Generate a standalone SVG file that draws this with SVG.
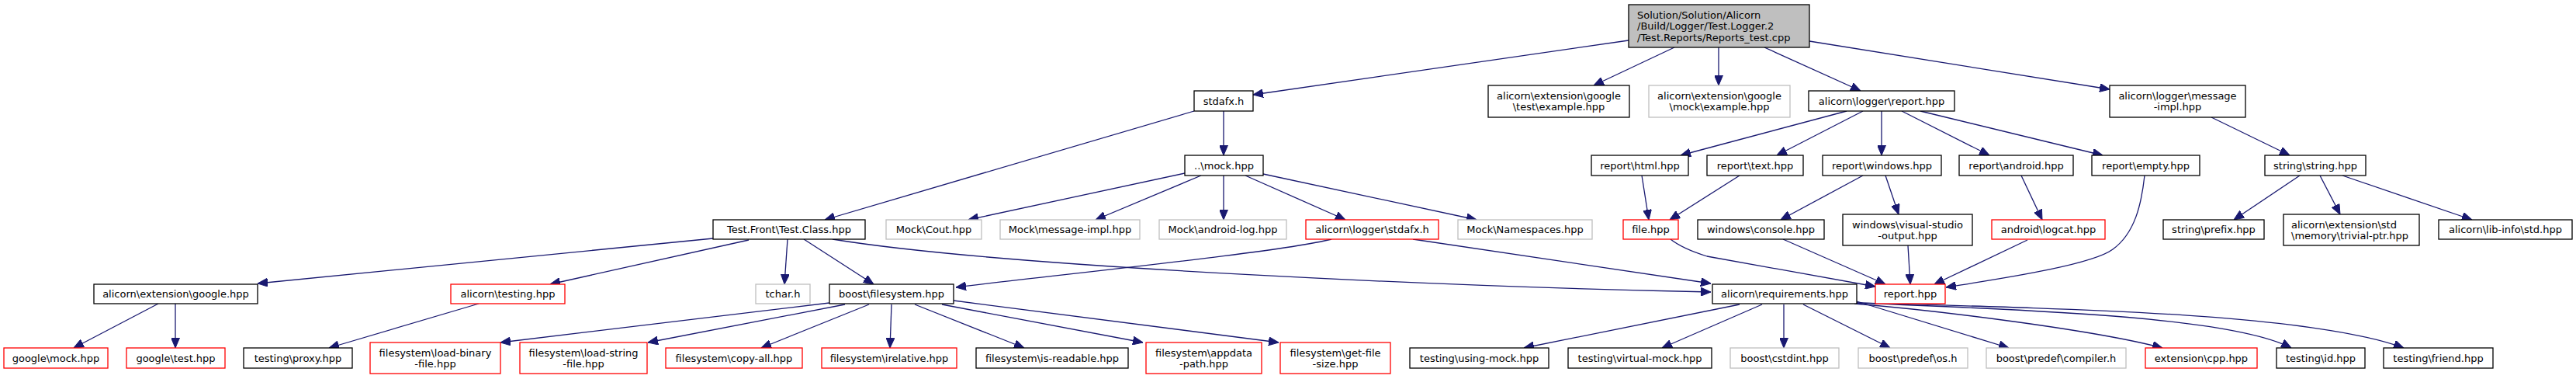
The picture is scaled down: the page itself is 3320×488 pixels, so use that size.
<svg xmlns="http://www.w3.org/2000/svg" width="3320" height="488" viewBox="0 0 3320 488">
<defs>
<style>
rect{fill:#fff;stroke-width:1.3}
.k rect{stroke:#000}
.g rect{stroke:#bfbfbf}
.r rect{stroke:#ff0000}
.root rect{fill:#bfbfbf;stroke:#000}
text{font-family:"DejaVu Sans","Liberation Sans",sans-serif;font-size:13px;fill:#000;text-anchor:middle}
.l text{text-anchor:start}
#edges path{fill:none;stroke:#191970;stroke-width:1.3;marker-end:url(#ah)}
</style>
<marker id="ah" markerUnits="userSpaceOnUse" markerWidth="13" markerHeight="11" refX="13" refY="5.5" orient="auto">
<path d="M0,0 L13,5.5 L0,11 z" fill="#191970" stroke="#191970" stroke-width="1"/>
</marker>
</defs>
<rect x="0" y="0" width="3320" height="488" fill="#fff" stroke="none"/>
<g id="edges">
<path d="M2099,52 L1615,122"/>
<path d="M2158,61 L2054,110"/>
<path d="M2215,61 L2215,110"/>
<path d="M2274,61 L2398,117"/>
<path d="M2332,53 L2719,115"/>
<path d="M1577,143 L1577,200"/>
<path d="M1539,143 L1063,283"/>
<path d="M1527,223 L1248,283"/>
<path d="M1548,226 L1412,283"/>
<path d="M1577,226 L1577,283"/>
<path d="M1605,226 L1734,283"/>
<path d="M1628,224 L1903,283"/>
<path d="M2380,143 L2166,200"/>
<path d="M2401,143 L2290,200"/>
<path d="M2425,143 L2425,200"/>
<path d="M2451,143 L2564,200"/>
<path d="M2475,143 L2710,200"/>
<path d="M2850,151 L2951,200"/>
<path d="M2116,226 L2125,283"/>
<path d="M2242,226 L2152,283"/>
<path d="M2401,226 L2295,283"/>
<path d="M2430,226 L2447,276"/>
<path d="M2605,226 L2632,283"/>
<path d="M2764,226 C2760,262 2752,300 2723,321 C2695,342 2570,360 2508,370"/>
<path d="M2964,226 L2879,283"/>
<path d="M2990,226 L3016,276"/>
<path d="M3019,226 L3186,283"/>
<path d="M919,307 L332,365"/>
<path d="M965,309 L709,366"/>
<path d="M1015,308 L1011,366"/>
<path d="M1036,308 L1126,366"/>
<path d="M1073,308 C1300,345 1900,370 2205,376"/>
<path d="M1716,308 C1650,325 1350,355 1232,370"/>
<path d="M1821,308 L2205,365"/>
<path d="M2153,308 Q2168,320 2200,330 L2417,369"/>
<path d="M2298,308 L2430,366"/>
<path d="M2459,316 L2462,366"/>
<path d="M2613,309 L2493,366"/>
<path d="M204,391 L95,448"/>
<path d="M226,391 L226,448"/>
<path d="M617,391 L424,448"/>
<path d="M1069,390 L645,441"/>
<path d="M1089,392 L835,441"/>
<path d="M1120,392 L981,448"/>
<path d="M1149,392 L1147,448"/>
<path d="M1179,392 L1320,448"/>
<path d="M1214,392 L1473,441"/>
<path d="M1229,387 L1648,441"/>
<path d="M2242,392 L1964,448"/>
<path d="M2271,392 L2142,448"/>
<path d="M2299,392 L2299,448"/>
<path d="M2324,392 L2436,448"/>
<path d="M2393,388 L2589,448"/>
<path d="M2390,391 C2500,400 2700,425 2787,448"/>
<path d="M2393,390 C2650,400 2880,410 2953,448"/>
<path d="M2393,390 C2700,398 2980,405 3098,448"/>
</g>
<g id="n_root" class="root l"><rect x="2099" y="6" width="233" height="55"/><text x="2110" y="23.5">Solution/Solution/Alicorn</text><text x="2110" y="38">/Build/Logger/Test.Logger.2</text><text x="2110" y="52.5">/Test.Reports/Reports_test.cpp</text></g>
<g id="n_stdafx" class="k"><rect x="1539" y="117" width="76" height="26"/><text x="1577" y="134.5">stdafx.h</text></g>
<g id="n_gtest_example" class="k"><rect x="1918" y="110" width="182" height="41"/><text x="2009" y="128">alicorn\extension\google</text><text x="2009" y="142">\test\example.hpp</text></g>
<g id="n_gmock_example" class="g"><rect x="2125" y="110" width="182" height="41"/><text x="2216" y="128">alicorn\extension\google</text><text x="2216" y="142">\mock\example.hpp</text></g>
<g id="n_logger_report" class="k"><rect x="2331" y="117" width="188" height="26"/><text x="2425" y="134.5">alicorn\logger\report.hpp</text></g>
<g id="n_message_impl" class="k"><rect x="2719" y="110" width="175" height="41"/><text x="2806.5" y="128">alicorn\logger\message</text><text x="2806.5" y="142">-impl.hpp</text></g>
<g id="n_mock" class="k"><rect x="1527" y="200" width="101" height="26"/><text x="1577.5" y="217.5">..\mock.hpp</text></g>
<g id="n_report_html" class="k"><rect x="2051" y="200" width="125" height="26"/><text x="2113.5" y="217.5">report\html.hpp</text></g>
<g id="n_report_text" class="k"><rect x="2200" y="200" width="124" height="26"/><text x="2262" y="217.5">report\text.hpp</text></g>
<g id="n_report_windows" class="k"><rect x="2349" y="200" width="153" height="26"/><text x="2425.5" y="217.5">report\windows.hpp</text></g>
<g id="n_report_android" class="k"><rect x="2525" y="200" width="147" height="26"/><text x="2598.5" y="217.5">report\android.hpp</text></g>
<g id="n_report_empty" class="k"><rect x="2696" y="200" width="139" height="26"/><text x="2765.5" y="217.5">report\empty.hpp</text></g>
<g id="n_string_string" class="k"><rect x="2919" y="200" width="130" height="26"/><text x="2984" y="217.5">string\string.hpp</text></g>
<g id="n_test_class" class="k"><rect x="919" y="283" width="196" height="25"/><text x="1017" y="300">Test.Front\Test.Class.hpp</text></g>
<g id="n_mock_cout" class="g"><rect x="1142" y="283" width="123" height="25"/><text x="1203.5" y="300">Mock\Cout.hpp</text></g>
<g id="n_mock_message_impl" class="g"><rect x="1289" y="283" width="180" height="25"/><text x="1379" y="300">Mock\message-impl.hpp</text></g>
<g id="n_mock_android_log" class="g"><rect x="1494" y="283" width="164" height="25"/><text x="1576" y="300">Mock\android-log.hpp</text></g>
<g id="n_logger_stdafx" class="r"><rect x="1683" y="283" width="171" height="25"/><text x="1768.5" y="300">alicorn\logger\stdafx.h</text></g>
<g id="n_mock_namespaces" class="g"><rect x="1879" y="283" width="173" height="25"/><text x="1965.5" y="300">Mock\Namespaces.hpp</text></g>
<g id="n_file" class="r"><rect x="2092" y="283" width="71" height="25"/><text x="2127.5" y="300">file.hpp</text></g>
<g id="n_windows_console" class="k"><rect x="2188" y="283" width="163" height="25"/><text x="2269.5" y="300">windows\console.hpp</text></g>
<g id="n_windows_vs_output" class="k"><rect x="2375" y="276" width="167" height="40"/><text x="2458.5" y="293.5">windows\visual-studio</text><text x="2458.5" y="307.5">-output.hpp</text></g>
<g id="n_android_logcat" class="r"><rect x="2567" y="283" width="146" height="25"/><text x="2640" y="300">android\logcat.hpp</text></g>
<g id="n_string_prefix" class="k"><rect x="2788" y="283" width="130" height="25"/><text x="2853" y="300">string\prefix.hpp</text></g>
<g id="n_trivial_ptr" class="k l"><rect x="2943" y="276" width="175" height="40"/><text x="2953" y="293.5">alicorn\extension\std</text><text x="2953" y="307.5">\memory\trivial-ptr.hpp</text></g>
<g id="n_lib_info_std" class="k"><rect x="3143" y="283" width="172" height="25"/><text x="3229" y="300">alicorn\lib-info\std.hpp</text></g>
<g id="n_ext_google" class="k"><rect x="121" y="366" width="211" height="25"/><text x="226.5" y="383">alicorn\extension\google.hpp</text></g>
<g id="n_testing" class="r"><rect x="581" y="366" width="147" height="25"/><text x="654.5" y="383">alicorn\testing.hpp</text></g>
<g id="n_tchar" class="g"><rect x="974" y="366" width="70" height="25"/><text x="1009" y="383">tchar.h</text></g>
<g id="n_boost_filesystem" class="k"><rect x="1069" y="366" width="160" height="25"/><text x="1149" y="383">boost\filesystem.hpp</text></g>
<g id="n_requirements" class="k"><rect x="2207" y="366" width="186" height="25"/><text x="2300" y="383">alicorn\requirements.hpp</text></g>
<g id="n_report" class="r"><rect x="2417" y="366" width="90" height="25"/><text x="2462" y="383">report.hpp</text></g>
<g id="n_google_mock" class="r"><rect x="5" y="448" width="134" height="26"/><text x="72" y="465.5">google\mock.hpp</text></g>
<g id="n_google_test" class="r"><rect x="163" y="448" width="127" height="26"/><text x="226.5" y="465.5">google\test.hpp</text></g>
<g id="n_testing_proxy" class="k"><rect x="314" y="448" width="140" height="26"/><text x="384" y="465.5">testing\proxy.hpp</text></g>
<g id="n_load_binary" class="r"><rect x="477" y="441" width="168" height="40"/><text x="561" y="458.5">filesystem\load-binary</text><text x="561" y="472.5">-file.hpp</text></g>
<g id="n_load_string" class="r"><rect x="670" y="441" width="164" height="40"/><text x="752" y="458.5">filesystem\load-string</text><text x="752" y="472.5">-file.hpp</text></g>
<g id="n_copy_all" class="r"><rect x="858" y="448" width="176" height="26"/><text x="946" y="465.5">filesystem\copy-all.hpp</text></g>
<g id="n_irelative" class="r"><rect x="1059" y="448" width="174" height="26"/><text x="1146" y="465.5">filesystem\irelative.hpp</text></g>
<g id="n_is_readable" class="k"><rect x="1258" y="448" width="196" height="26"/><text x="1356" y="465.5">filesystem\is-readable.hpp</text></g>
<g id="n_appdata_path" class="r"><rect x="1477" y="441" width="149" height="40"/><text x="1551.5" y="458.5">filesystem\appdata</text><text x="1551.5" y="472.5">-path.hpp</text></g>
<g id="n_get_file_size" class="r"><rect x="1650" y="441" width="142" height="40"/><text x="1721" y="458.5">filesystem\get-file</text><text x="1721" y="472.5">-size.hpp</text></g>
<g id="n_using_mock" class="k"><rect x="1817" y="448" width="179" height="26"/><text x="1906.5" y="465.5">testing\using-mock.hpp</text></g>
<g id="n_virtual_mock" class="k"><rect x="2021" y="448" width="185" height="26"/><text x="2113.5" y="465.5">testing\virtual-mock.hpp</text></g>
<g id="n_cstdint" class="g"><rect x="2230" y="448" width="140" height="26"/><text x="2300" y="465.5">boost\cstdint.hpp</text></g>
<g id="n_predef_os" class="g"><rect x="2395" y="448" width="141" height="26"/><text x="2465.5" y="465.5">boost\predef\os.h</text></g>
<g id="n_predef_compiler" class="g"><rect x="2560" y="448" width="180" height="26"/><text x="2650" y="465.5">boost\predef\compiler.h</text></g>
<g id="n_extension_cpp" class="r"><rect x="2765" y="448" width="144" height="26"/><text x="2837" y="465.5">extension\cpp.hpp</text></g>
<g id="n_testing_id" class="k"><rect x="2934" y="448" width="114" height="26"/><text x="2991" y="465.5">testing\id.hpp</text></g>
<g id="n_testing_friend" class="k"><rect x="3072" y="448" width="141" height="26"/><text x="3142.5" y="465.5">testing\friend.hpp</text></g>
</svg>
